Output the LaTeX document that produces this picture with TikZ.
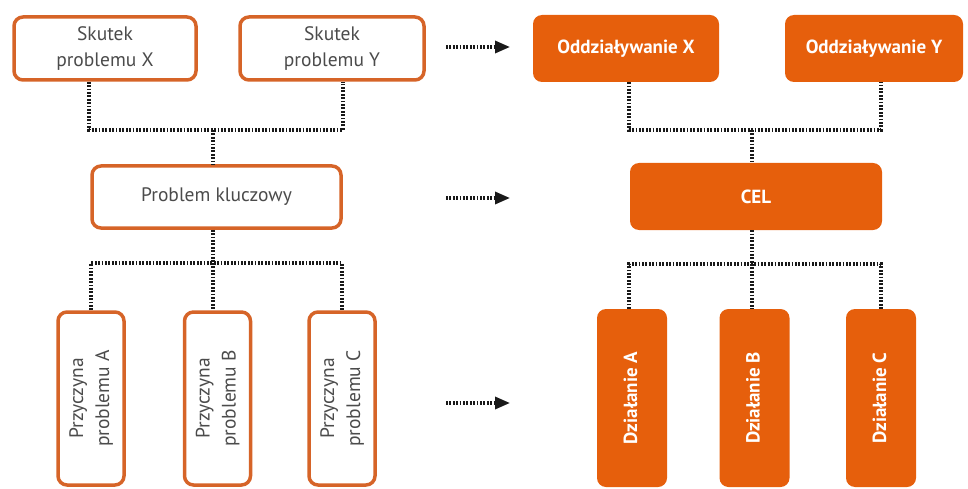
\documentclass[tikz,border=0pt]{standalone}
\usepackage{fontspec}
\setmainfont{PT Sans}
\usetikzlibrary{arrows.meta}
\definecolor{pomar}{RGB}{230,95,12}
\definecolor{ramka}{RGB}{214,100,40}
\definecolor{tekst}{RGB}{75,75,75}
\definecolor{kropki}{RGB}{25,25,25}
\tikzset{
	prob/.style={draw=ramka,line width=3.5pt,rounded corners=9pt,fill=white,text=tekst,align=center,inner sep=0pt,font=\fontsize{19.5}{26}\selectfont},
	cel/.style={fill=pomar,rounded corners=9pt,text=white,align=center,inner sep=0pt,font=\fontsize{19}{26}\selectfont\bfseries},
	link/.style={draw=kropki,line width=3.2pt,dash pattern=on 1.8pt off 1.6pt},
	strz/.style={link,-{Triangle[length=15pt,width=12pt]}}
}
\newcommand{\pion}[1]{\rotatebox{90}{\begin{tabular}{@{}c@{}}#1\end{tabular}}}
\begin{document}
	\begin{tikzpicture}[x=1pt,y=-1pt]
		\useasboundingbox (0,0) rectangle (968,489);
		% lewa strona - drzewo problemow
		\node[prob,minimum width=182pt,minimum height=63pt] (sx) at (105,48.5) {Skutek\\problemu X};
		\node[prob,minimum width=184pt,minimum height=63pt] (sy) at (332,48.5) {Skutek\\problemu Y};
		\node[prob,minimum width=249pt,minimum height=62pt] (pk) at (216.5,197) {Problem kluczowy};
		\foreach \n/\x/\t in {pa/91/A,pb/217.5/B,pc/342/C}
			\node[prob,minimum width=66pt,minimum height=173pt] (\n) at (\x,398.5) {\pion{Przyczyna\\problemu \t}};
		% prawa strona - drzewo celow
		\node[cel,minimum width=186pt,minimum height=67pt] (ox) at (626,48.5) {Oddziaływanie X};
		\node[cel,minimum width=178pt,minimum height=67pt] (oy) at (874,48.5) {Oddziaływanie Y};
		\node[cel,minimum width=252pt,minimum height=67pt] (cel) at (756,196.5) {CEL};
		\foreach \n/\x/\t in {da/632/A,db/754.5/B,dc/881/C}
			\node[cel,minimum width=70pt,minimum height=178pt] (\n) at (\x,398) {\pion{Działanie \t}};
		% polaczenia
		\coordinate (j1) at (213,130);
		\coordinate (j2) at (213,263);
		\coordinate (j3) at (752,130);
		\coordinate (j4) at (752,264);
		\draw[link] ([xshift=-16pt]sx.south) |- (j1) -| ([xshift=11pt]sy.south);
		\draw[link] (j1) -- (j1 |- pk.north);
		\draw[link] (j2 |- pk.south) -- (j2);
		\draw[link] (pa.north) |- (j2) -| (pc.north);
		\draw[link] (j2) -- (j2 |- pb.north);
		\draw[link] ([xshift=3pt]ox.south) |- (j3) -| ([xshift=7pt]oy.south);
		\draw[link] (j3) -- (j3 |- cel.north);
		\draw[link] (j4 |- cel.south) -- (j4);
		\draw[link] ([xshift=-3pt]da.north) |- (j4) -| (dc.north);
		\draw[link] (j4) -- (j4 |- db.north);
		% strzalki
		\foreach \y [count=\i] in {47,198,403}{
			\coordinate (s\i) at (446,\y);
			\coordinate (e\i) at (510,\y);
			\draw[strz] (s\i) -- (e\i);
		}
	\end{tikzpicture}
\end{document}
